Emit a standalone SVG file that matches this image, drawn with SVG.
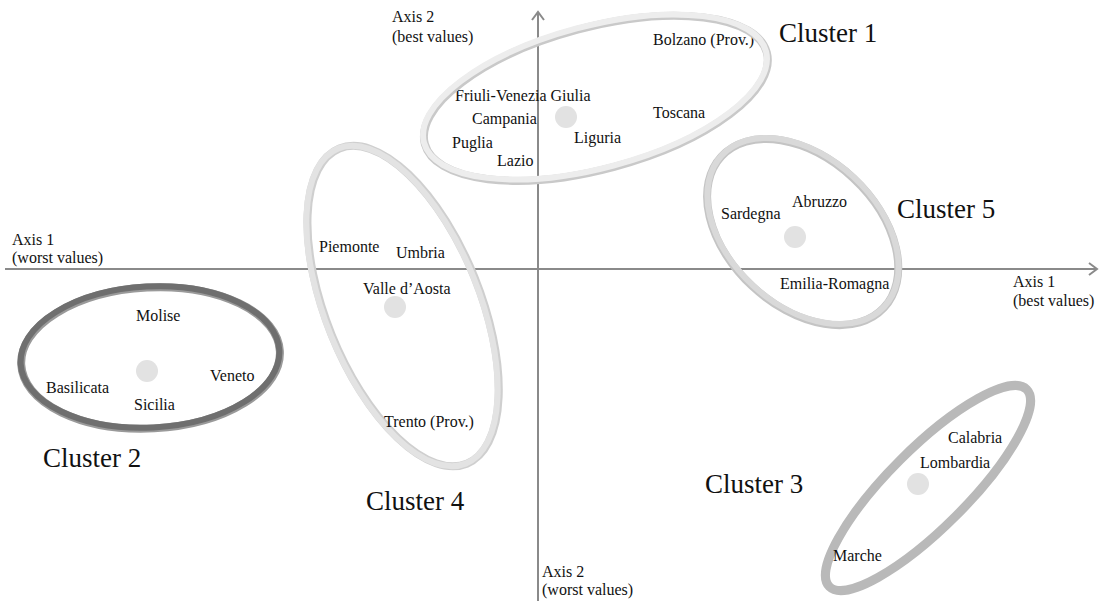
<svg xmlns="http://www.w3.org/2000/svg" width="1100" height="601" viewBox="0 0 1100 601">
  <style>
    .lbl { font-family: "Liberation Serif", "Times New Roman", serif; font-size: 16px; fill: #111; }
    .cl { font-family: "Liberation Serif", "Times New Roman", serif; font-size: 27px; fill: #111; }
    .axis { stroke: #8a8a8a; stroke-width: 2; fill: none; }
    .dot { fill: #e2e2e2; }
    .ring { fill: none; }
  </style>
  <rect width="1100" height="601" fill="#ffffff"/>

  <!-- axes -->
  <g id="connectors">
    <line class="axis" x1="5" y1="269" x2="1096" y2="269"/>
    <polyline class="axis" points="1089,263 1097,269 1089,275"/>
    <line class="axis" x1="538" y1="13" x2="538" y2="601"/>
    <polyline class="axis" points="532,20 538,12 544,20"/>
  </g>

  <!-- axis captions -->
  <g id="axis-labels">
    <text class="lbl" x="392" y="22">Axis 2</text>
    <text class="lbl" x="392" y="42">(best values)</text>
    <text class="lbl" x="12" y="245">Axis 1</text>
    <text class="lbl" x="12" y="263">(worst values)</text>
    <text class="lbl" x="1013" y="287">Axis 1</text>
    <text class="lbl" x="1013" y="306">(best values)</text>
    <text class="lbl" x="542" y="577">Axis 2</text>
    <text class="lbl" x="542" y="595">(worst values)</text>
  </g>

  <!-- cluster 1 -->
  <g id="cluster1">
    <circle class="dot" cx="566" cy="117" r="11"/>
    <text class="lbl" x="653" y="45">Bolzano (Prov.)</text>
    <text class="lbl" x="455" y="101">Friuli-Venezia Giulia</text>
    <text class="lbl" x="472" y="124">Campania</text>
    <text class="lbl" x="452" y="148">Puglia</text>
    <text class="lbl" x="497" y="166">Lazio</text>
    <text class="lbl" x="574" y="143">Liguria</text>
    <text class="lbl" x="653" y="118">Toscana</text>
    <g transform="translate(595 97) rotate(-15)">
      <ellipse class="ring" rx="177" ry="71" cx="0.5" cy="1.5" stroke="#c9c9c9" stroke-width="8"/>
      <ellipse class="ring" rx="177" ry="71" stroke="#ededed" stroke-width="6"/>
    </g>
    <text class="cl" x="779" y="42">Cluster 1</text>
  </g>

  <!-- cluster 2 -->
  <g id="cluster2">
    <g transform="translate(150 357) rotate(-3)">
      <ellipse class="ring" rx="129.5" ry="70.5" cx="0.5" cy="1" stroke="#9a9a9a" stroke-width="8"/>
      <ellipse class="ring" rx="129.5" ry="70.5" stroke="#6f6f6f" stroke-width="6"/>
    </g>
    <circle class="dot" cx="147" cy="371" r="11"/>
    <text class="lbl" x="136" y="321">Molise</text>
    <text class="lbl" x="210" y="381">Veneto</text>
    <text class="lbl" x="46" y="393">Basilicata</text>
    <text class="lbl" x="134" y="410">Sicilia</text>
    <text class="cl" x="43" y="467">Cluster 2</text>
  </g>

  <!-- cluster 4 -->
  <g id="cluster4">
    <g transform="translate(402 306) rotate(68)">
      <ellipse class="ring" rx="170" ry="77" cx="0.5" cy="-1" stroke="#cfcfcf" stroke-width="8"/>
      <ellipse class="ring" rx="170" ry="77" stroke="#e3e3e3" stroke-width="6"/>
    </g>
    <circle class="dot" cx="395" cy="307" r="11"/>
    <text class="lbl" x="319" y="252">Piemonte</text>
    <text class="lbl" x="396" y="258">Umbria</text>
    <text class="lbl" x="363" y="294">Valle d’Aosta</text>
    <text class="lbl" x="384" y="427">Trento (Prov.)</text>
    <text class="cl" x="366" y="510">Cluster 4</text>
  </g>

  <!-- cluster 5 -->
  <g id="cluster5">
    <g transform="translate(803 231) rotate(43)">
      <ellipse class="ring" rx="111" ry="74" cx="0.5" cy="1" stroke="#c4c4c4" stroke-width="8"/>
      <ellipse class="ring" rx="111" ry="74" stroke="#d9d9d9" stroke-width="6"/>
    </g>
    <circle class="dot" cx="795" cy="237" r="11"/>
    <text class="lbl" x="721" y="219">Sardegna</text>
    <text class="lbl" x="792" y="207">Abruzzo</text>
    <text class="lbl" x="780" y="289">Emilia-Romagna</text>
    <text class="cl" x="897" y="218">Cluster 5</text>
  </g>

  <!-- cluster 3 -->
  <g id="cluster3">
    <g transform="translate(928 488) rotate(-45)">
      <ellipse class="ring" rx="139.5" ry="39.5" stroke="#b9b9b9" stroke-width="9"/>
    </g>
    <circle class="dot" cx="918" cy="484" r="11"/>
    <text class="lbl" x="948" y="443">Calabria</text>
    <text class="lbl" x="920" y="468">Lombardia</text>
    <text class="lbl" x="833" y="561">Marche</text>
    <text class="cl" x="705" y="493">Cluster 3</text>
  </g>
</svg>
